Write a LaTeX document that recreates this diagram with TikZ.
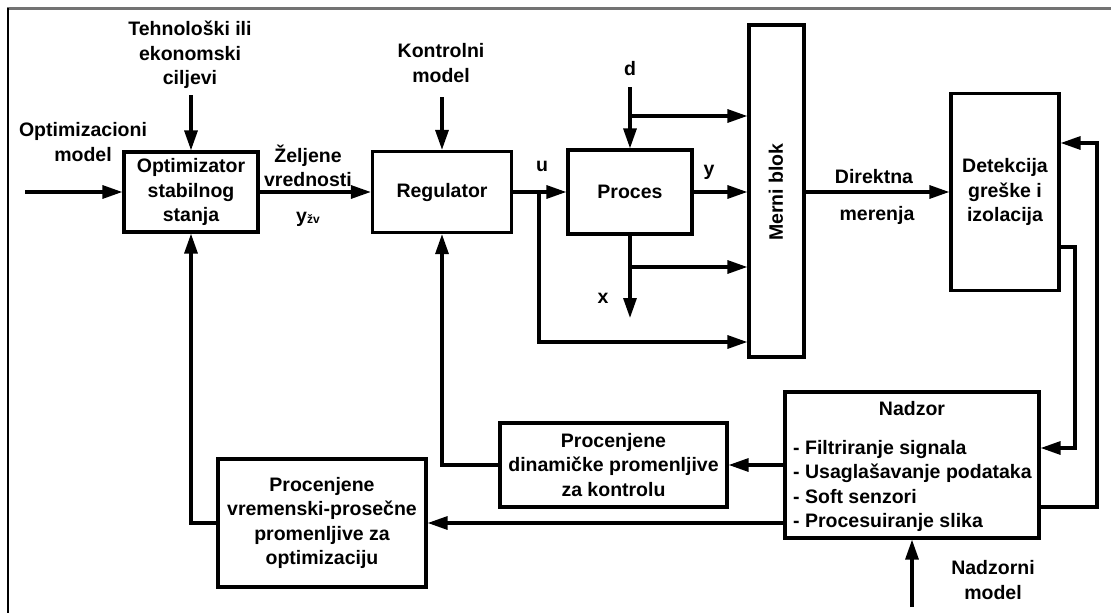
\documentclass[tikz,border=0pt]{standalone}
\usepackage{fontspec}
\setmainfont{Liberation Sans}
\usetikzlibrary{arrows.meta}
\begin{document}
\begin{tikzpicture}[x=1pt,y=-1pt,
  every node/.style={font=\fontsize{19.5}{24.5}\selectfont\bfseries, inner sep=0pt, align=center},
  box/.style={draw, line width=3.2pt},
  conn/.style={line width=3.2pt, -{Triangle[length=20pt,width=13pt]}},
  wire/.style={line width=3.2pt}]
\useasboundingbox (0,0) rectangle (1111,613);
% frame
\draw[line width=2.4pt, black!55] (7,8.5) -- (1111,8.5);
\draw[line width=2.2pt] (8,8) -- (8,613);

% blocks
\node[box, minimum width=134pt, minimum height=80pt] (opt) at (191,192) {Optimizator\\stabilnog\\stanja};
\node[box, minimum width=139pt, minimum height=81pt] (reg) at (442,192) {Regulator};
\node[box, minimum width=124pt, minimum height=84pt] (proc) at (630,192) {Proces};
\node[box, minimum width=55pt, minimum height=332pt] (merni) at (776.5,191) {};
\node[rotate=90] (mernit) at (776,192) {Merni blok};
\node[box, minimum width=108pt, minimum height=197pt] (det) at (1005,192) {Detekcija\\gre\v{s}ke i\\izolacija};
\node[box, minimum width=254pt, minimum height=146pt] (nadzor) at (912,465) {};
\node (nadzort) at (912,409) {Nadzor};
\node[anchor=north west, align=left] (nadzorl) at (793,440) {- Filtriranje signala\\- Usagla\v{s}avanje podataka\\- Soft senzori\\- Procesuiranje slika};
\node[box, minimum width=227pt, minimum height=84pt] (din) at (613.5,465) {Procenjene\\dinami\v{c}ke promenljive\\za kontrolu};
\node[box, minimum width=208pt, minimum height=128pt] (vrem) at (322,523) {Procenjene\\vremenski-prose\v{c}ne\\promenljive za\\optimizaciju};

% labels
\node (teh) at (190,55) {Tehnolo\v{s}ki ili\\ekonomski\\ciljevi};
\node (optmod) at (83,142) {Optimizacioni\\model};
\node (zelj) at (308,166) {\v{Z}eljene\\vrednosti};
\node (yzv) at (308,219) {y\raisebox{-1.5pt}{\fontsize{12}{12}\selectfont \v{z}v}};
\node (kon) at (441,63) {Kontrolni\\model};
\node (ul) at (542,166) {u};
\node (dl) at (630,69) {d};
\node (yl) at (709,172) {y};
\node (xl) at (603,298) {x};
\node (dir) at (874,177) {Direktna};
\node (mer) at (877,215) {merenja};
\node (nzm) at (993,580) {Nadzorni\\model};

% coordinates
\coordinate (inL) at (25,192);
\coordinate (tehA) at (191,95);
\coordinate (konA) at (442,97);
\coordinate (ub) at (539,192);
\coordinate (ud) at (539,342);
\coordinate (dA) at (630,87);
\coordinate (db) at (630,116);
\coordinate (xb) at (630,267);
\coordinate (xE) at (630,318);
\coordinate (r1a) at (1075,247);
\coordinate (r1b) at (1075,448);
\coordinate (r2a) at (1097,507);
\coordinate (r2b) at (1097,143);
\coordinate (nzA) at (912,607);

% connectors
\draw[conn] (inL) -- (opt.west);
\draw[conn] (tehA) -- (opt.north);
\draw[conn] (opt.east) -- (reg.west);
\draw[conn] (konA) -- (reg.north);
\draw[conn] (reg.east) -- (proc.west);
\draw[conn] (ub) -- (ud) -- (merni.west |- ud);
\draw[conn] (dA) -- (proc.north);
\draw[conn] (db) -- (merni.west |- db);
\draw[conn] (proc.east) -- (merni.west |- proc.east);
\draw[conn] (proc.south) -- (xE);
\draw[conn] (xb) -- (merni.west |- xb);
\draw[conn] (merni.east |- det.west) -- (det.west);
\draw[conn] (det.east |- r1a) -- (r1a) -- (r1b) -- (nadzor.east |- r1b);
\draw[conn] (nadzor.east |- r2a) -- (r2a) -- (r2b) -- (det.east |- r2b);
\draw[conn] (nadzor.west |- din.east) -- (din.east);
\draw[conn] (din.west) -| (reg.south);
\draw[conn] (nadzor.west |- vrem.east) -- (vrem.east);
\draw[conn] (vrem.west) -| (opt.south);
\draw[conn] (nzA) -- (nadzor.south);
\end{tikzpicture}
\end{document}
